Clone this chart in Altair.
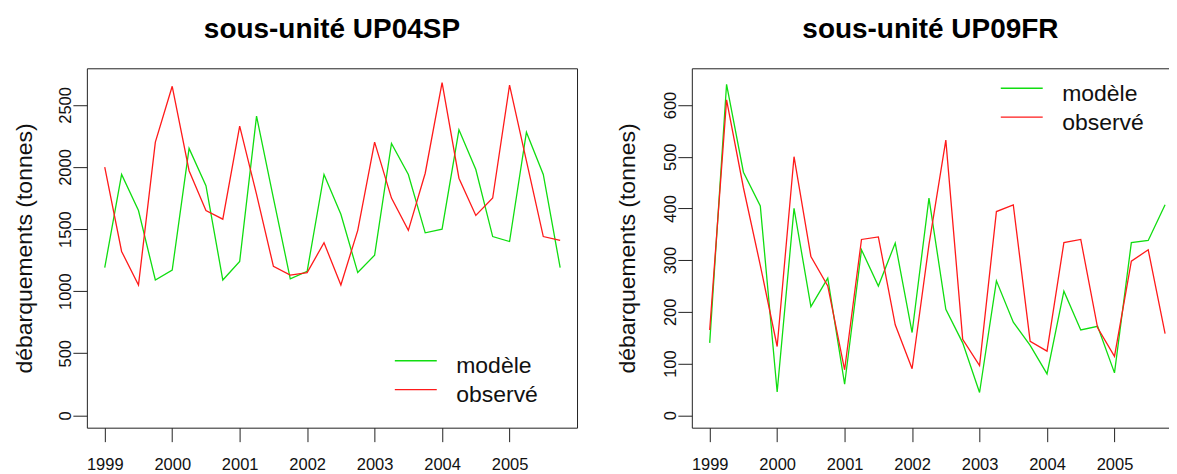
import altair as alt
import pandas as pd

# Trimestres (axe x)
trimestres = [1999.0, 1999.25, 1999.5, 1999.75,
              2000.0, 2000.25, 2000.5, 2000.75,
              2001.0, 2001.25, 2001.5, 2001.75,
              2002.0, 2002.25, 2002.5, 2002.75,
              2003.0, 2003.25, 2003.5, 2003.75,
              2004.0, 2004.25, 2004.5, 2004.75,
              2005.0, 2005.25, 2005.5, 2005.75]

series = ["modèle", "observé"]

# Sous-unité UP04SP
up04_modele = [1190, 1940, 1650, 1090, 1170, 2150, 1850, 1090,
               1240, 2410, 1750, 1100, 1160, 1940, 1620, 1150,
               1290, 2190, 1940, 1470, 1500, 2300, 1980, 1440,
               1400, 2280, 1940, 1190]
up04_observe = [2000, 1320, 1050, 2200, 2650, 1970, 1650, 1580,
                2330, 1780, 1200, 1130, 1150, 1390, 1050, 1490,
                2200, 1750, 1490, 1950, 2680, 1910, 1610, 1750,
                2660, 2050, 1440, 1410]

# Sous-unité UP09FR
up09_modele = [140, 640, 470, 405, 45, 400, 210, 265,
               60, 320, 250, 333, 160, 420, 205, 140,
               44, 260, 180, 135, 80, 240, 165, 172,
               82, 334, 338, 407]
up09_observe = [165, 610, 440, 290, 133, 500, 307, 250,
                88, 340, 345, 175, 90, 330, 532, 147,
                96, 394, 407, 143, 124, 334, 340, 169,
                114, 298, 320, 158]

x_ticks = [1999, 2000, 2001, 2002, 2003, 2004, 2005]
y_ticks_up04 = [0, 500, 1000, 1500, 2000, 2500]
y_ticks_up09 = [0, 100, 200, 300, 400, 500, 600]

FONT = "Liberation Sans"
GREEN = "#10dd10"
RED = "#ff1a1a"
FRAME = "#222"


def panel(title, modele, observe, ydomain, yticks, width, xmax,
          title_x, legend_x, legend_y, open_right=False):
    df = pd.DataFrame({
        "annee": trimestres + trimestres,
        "valeur": modele + observe,
        "serie": [series[0]] * len(modele) + [series[1]] * len(observe),
    })
    xscale = alt.Scale(domain=[1998.735, xmax], nice=False, zero=False)
    yscale = alt.Scale(domain=ydomain, nice=False, zero=False)
    lines = alt.Chart(df).mark_line(strokeWidth=1.3).encode(
        x=alt.X("annee:Q", scale=xscale,
                axis=alt.Axis(values=x_ticks, format="d", title=None,
                              labelPadding=15, domain=open_right,
                              domainColor=FRAME, domainWidth=1)),
        y=alt.Y("valeur:Q", scale=yscale,
                axis=alt.Axis(values=yticks, format="d",
                              title="débarquements (tonnes)",
                              labelAngle=270, labelAlign="center",
                              labelBaseline="alphabetic", labelPadding=2,
                              titleAngle=270, titleBaseline="alphabetic",
                              titleAlign="center", titleX=title_x, titleY=180,
                              domain=open_right, domainColor=FRAME,
                              domainWidth=1)),
        color=alt.Color("serie:N",
                        scale=alt.Scale(domain=series, range=[GREEN, RED]),
                        legend=alt.Legend(orient="none", legendX=legend_x,
                                          legendY=legend_y, title=None,
                                          symbolType="M-3,-0.79H3",
                                          symbolSize=196,
                                          symbolStrokeWidth=1.3,
                                          labelFontSize=23, labelFont=FONT,
                                          labelColor="#111",
                                          labelOffset=29, rowPadding=5,
                                          padding=0)),
    )
    title_obj = alt.Title(title, fontSize=28, font=FONT, fontWeight="bold",
                          baseline="alphabetic", offset=2, anchor="middle",
                          color="#000")
    if not open_right:
        return lines.properties(width=width, height=360, title=title_obj)
    # top border drawn as a domain-only axis, right edge left open (cropped)
    top = alt.Chart(df).mark_point(opacity=0).encode(
        x=alt.X("annee:Q", scale=xscale,
                axis=alt.Axis(orient="top", labels=False, ticks=False,
                              domain=True, domainColor=FRAME, domainWidth=1,
                              title=None)),
    )
    return alt.layer(lines, top).resolve_axis(x="independent").properties(
        width=width, height=360, title=title_obj,
        view=alt.ViewBackground(strokeOpacity=0))


left = panel("sous-unité UP04SP", up04_modele, up04_observe,
             [-99, 2795], y_ticks_up04, 491, 2006.0, -55, 318, 287)
right = panel("sous-unité UP09FR", up09_modele, up09_observe,
              [-24, 671], y_ticks_up09, 478, 2005.808, -57, 319, 14,
              open_right=True)

chart = alt.hconcat(left, right, spacing=39).resolve_scale(
    color="independent").resolve_legend(color="independent").configure_view(
    stroke=FRAME, strokeWidth=1).configure_axis(
    domain=False, grid=False, tickColor=FRAME, tickSize=14, tickWidth=1,
    labelFont=FONT, labelFontSize=16.5, labelColor="#111",
    titleFont=FONT, titleFontSize=23, titleFontWeight="normal",
    titleColor="#111").properties(
    padding={"left": 5, "top": 7, "right": 0, "bottom": 0},
    background="white")

chart.save("out.html", embed_options={"renderer": "svg", "actions": False})
